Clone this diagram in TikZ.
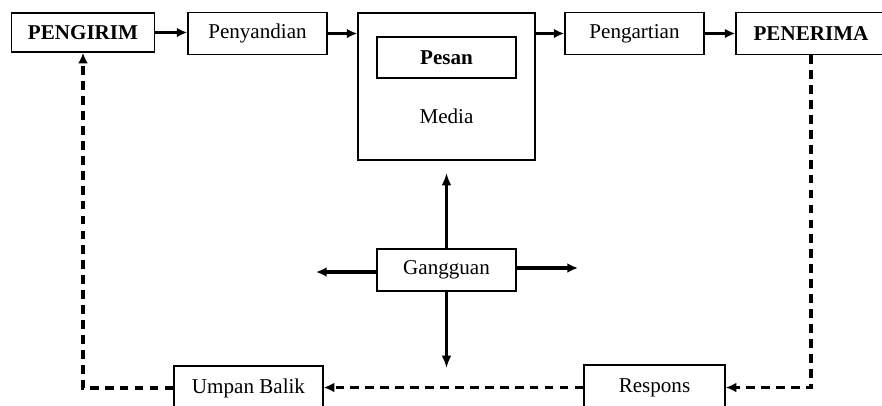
\documentclass[tikz,border=0pt]{standalone}
\usepackage{fontspec}
\setmainfont{Liberation Serif}
\usetikzlibrary{arrows.meta}
\tikzstyle{kotak}=[draw, line width=0.8pt, text centered, minimum width=2.78cm,
  minimum height=0.84cm, inner sep=2pt, font=\fontsize{12}{14}\selectfont]
\tikzstyle{pelaku} = [kotak, font=\fontsize{12}{14}\selectfont\bfseries]
\tikzstyle{teks} = [text centered, font=\fontsize{12}{14}\selectfont]
\tikzstyle{line} = [draw, line width=1.9pt, color=black,
  -{Latex[length=6pt,width=5.5pt]}]
\tikzstyle{linetipis} = [draw, line width=1.2pt, color=black,
  -{Latex[length=7pt,width=5.5pt]}]
\tikzstyle{linepart} = [draw, line width=1.9pt, color=black,
  -{Latex[length=6pt,width=5.5pt]}, dash pattern=on 5pt off 3.5pt]

\begin{document}
\begin{tikzpicture}
  \useasboundingbox (0,0) rectangle (17.64,-8.1);

  % Draw diagram elements
  % baris atas
  \node (PENGIRIM) [pelaku, minimum width=2.86cm, minimum height=0.78cm] at (1.66,-0.65) {PENGIRIM};
  \node (PENYANDIAN) [kotak] at (5.15,-0.67) {Penyandian};
  \node (MEDIA) [kotak, minimum width=3.54cm, minimum height=2.94cm] at (8.93,-1.73) {};
  \node (PESAN) [pelaku, minimum height=0.82cm] at (8.93,-1.15) {Pesan};
  \node (MEDIATEKS) [teks] at (8.93,-2.32) {Media};
  \node (PENGARTIAN) [kotak] at (12.69,-0.67) {Pengartian};
  \node (PENERIMA) [pelaku, minimum width=3.0cm] at (16.22,-0.67) {PENERIMA};

  % gangguan
  \node (GANGGUAN) [kotak] at (8.93,-5.4) {Gangguan};
  \coordinate (GATAS) at (8.93,-3.46);
  \coordinate (GBAWAH) at (8.93,-7.36);
  \coordinate (GKIRI) at (6.32,-5.44);
  \coordinate (GKANAN) at (11.56,-5.36);

  % baris bawah
  \node (UMPAN) [kotak, minimum width=2.98cm, minimum height=0.88cm] at (4.97,-7.76) {Umpan Balik};
  \node (RESPONS) [kotak, minimum width=2.82cm, minimum height=0.9cm] at (13.09,-7.75) {Respons};

  % Draw arrows between elements
  \path [line] (PENGIRIM.east) -- (PENYANDIAN.west |- PENGIRIM.east);
  \path [line] (PENYANDIAN.east) -- (PENYANDIAN.east -| MEDIA.west);
  \path [line] (PENGARTIAN.west -| MEDIA.east) -- (PENGARTIAN.west);
  \path [line] (PENGARTIAN.east) -- (PENERIMA.west);

  %gangguan block
  \path [linetipis] (GANGGUAN.north) -- (GATAS);
  \path [linetipis] (GANGGUAN.south) -- (GBAWAH);
  \path [line] (GANGGUAN.west |- GKIRI) -- (GKIRI);
  \path [line] (GANGGUAN.east |- GKANAN) -- (GKANAN);

  %umpan balik block
  \path [linepart] (PENERIMA.south) |- (RESPONS.east);
  \path [linepart] (RESPONS.west) -- (RESPONS.west -| UMPAN.east);
  \path [linepart] (UMPAN.west) -| (PENGIRIM.south);

\end{tikzpicture}
\end{document}
